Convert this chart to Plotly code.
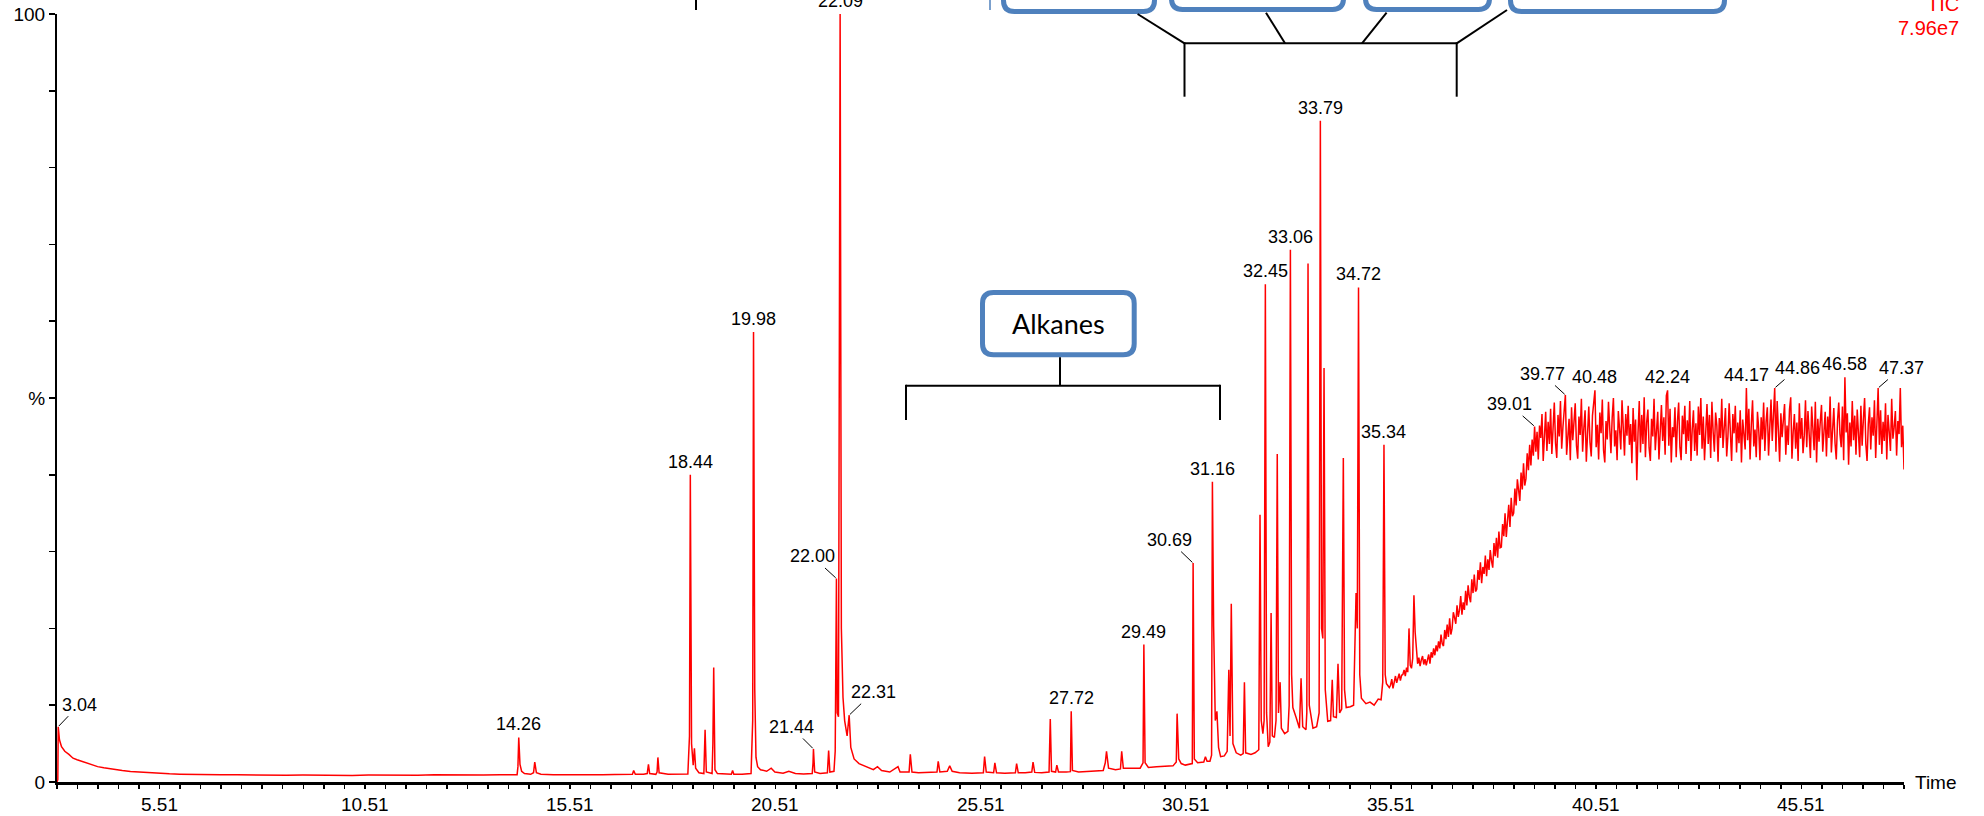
import numpy as np
import plotly.graph_objects as go

# ---------------- data (time in min, intensity in %) ----------------
early_scans = [
    (3.01, 0.0), (3.03, 0.3), (3.04, 7.2), (3.07, 5.5), (3.12, 4.6), (3.2, 4.0), (3.3, 3.6), (3.4, 3.1),
    (3.5, 2.9), (3.6, 2.7), (3.7, 2.5), (3.8, 2.35), (3.9, 2.2), (4.0, 2.0), (4.15, 1.85), (4.3, 1.7),
    (4.45, 1.6), (4.6, 1.5), (4.8, 1.38), (5.0, 1.3), (5.25, 1.22), (5.5, 1.12), (5.75, 1.06), (6.0, 1.02),
    (6.3, 0.98), (6.6, 0.97), (7.0, 0.93), (7.4, 0.95), (7.8, 0.9), (8.2, 0.93), (8.6, 0.88), (9.0, 0.91),
    (9.4, 0.87), (9.8, 0.9), (10.2, 0.86), (10.6, 0.9), (11.0, 0.87), (11.4, 0.92), (11.8, 0.88),
    (12.2, 0.93), (12.6, 0.89), (13.0, 0.92), (13.4, 0.9), (13.8, 0.94), (14.1, 0.92), (14.22, 0.95),
    (14.24, 2.0), (14.26, 5.8), (14.29, 2.3), (14.33, 1.4), (14.4, 1.1), (14.55, 1.0), (14.62, 1.2),
    (14.65, 2.6), (14.69, 1.2), (14.8, 1.0), (15.1, 0.95), (15.5, 0.92), (15.9, 0.96), (16.3, 0.93),
    (16.6, 0.98), (16.9, 0.95), (17.03, 1.0), (17.06, 1.5), (17.1, 1.0), (17.3, 1.0), (17.39, 1.1),
    (17.42, 2.3), (17.45, 1.1), (17.6, 1.0), (17.63, 1.3), (17.65, 3.2), (17.68, 1.2), (17.9, 1.0),
    (18.2, 1.0), (18.38, 1.05),
]

mid_scans = [
    (18.42, 6.0), (18.44, 40.0), (18.47, 5.0), (18.51, 2.2), (18.54, 4.4), (18.57, 1.8), (18.65, 1.2),
    (18.77, 1.1), (18.8, 6.8), (18.83, 1.3), (18.97, 1.1), (18.99, 5.0), (19.01, 14.9), (19.04, 1.6),
    (19.1, 1.1), (19.3, 1.0), (19.44, 1.0), (19.47, 1.5), (19.5, 1.0), (19.7, 1.0), (19.92, 1.1),
    (19.96, 8.0), (19.98, 58.6), (20.01, 12.0), (20.04, 3.2), (20.08, 2.0), (20.15, 1.6), (20.3, 1.4),
    (20.41, 1.8), (20.5, 1.3), (20.7, 1.15), (20.84, 1.4), (21.0, 1.1), (21.2, 1.05), (21.41, 1.1),
    (21.43, 2.5), (21.44, 4.3), (21.47, 1.3), (21.6, 1.1), (21.78, 1.2), (21.81, 4.1), (21.84, 1.3),
    (21.94, 1.4), (21.97, 4.0), (22.0, 26.5), (22.02, 9.0), (22.05, 8.5), (22.09, 100.0), (22.12, 20.0),
    (22.16, 11.0), (22.2, 8.0), (22.26, 6.0), (22.31, 8.7), (22.35, 4.5), (22.43, 3.0), (22.55, 2.4),
    (22.74, 2.0), (22.9, 1.6), (23.0, 2.0), (23.1, 1.5), (23.3, 1.3), (23.5, 2.0), (23.55, 1.3),
    (23.77, 1.3), (23.8, 3.6), (23.84, 1.3), (24.0, 1.2), (24.2, 1.25), (24.45, 1.3), (24.48, 2.7),
    (24.52, 1.3), (24.7, 1.4), (24.76, 2.1), (24.82, 1.4), (25.0, 1.2), (25.3, 1.15), (25.58, 1.2),
    (25.61, 3.3), (25.65, 1.3), (25.83, 1.2), (25.86, 2.5), (25.9, 1.2), (26.1, 1.15), (26.36, 1.2),
    (26.39, 2.4), (26.43, 1.2), (26.6, 1.2), (26.76, 1.3), (26.79, 2.6), (26.83, 1.25), (27.0, 1.2),
]

late_scans = [
    (27.18, 1.3), (27.21, 8.2), (27.24, 1.4), (27.34, 1.3), (27.37, 2.2), (27.41, 1.3), (27.6, 1.3),
    (27.7, 1.35), (27.72, 9.2), (27.75, 1.5), (27.9, 1.3), (28.1, 1.35), (28.3, 1.4), (28.5, 1.5),
    (28.55, 2.5), (28.58, 4.0), (28.63, 1.8), (28.8, 1.6), (28.92, 1.7), (28.95, 4.0), (28.99, 1.8),
    (29.2, 1.75), (29.4, 1.8), (29.47, 2.5), (29.49, 17.9), (29.52, 2.5), (29.6, 1.9), (29.8, 2.0),
    (30.0, 2.05), (30.2, 2.1), (30.28, 2.6), (30.3, 8.9), (30.34, 3.0), (30.4, 2.4), (30.5, 2.2),
    (30.6, 2.3), (30.67, 2.4), (30.69, 28.5), (30.72, 3.0), (30.8, 2.5), (30.95, 2.6), (30.99, 3.3),
    (31.03, 2.7), (31.1, 2.7), (31.14, 3.5), (31.16, 39.1), (31.19, 20.2), (31.23, 8.0), (31.27, 9.2),
    (31.31, 4.5), (31.36, 3.3), (31.45, 3.4), (31.52, 4.0), (31.56, 14.6), (31.59, 6.0), (31.62, 23.2),
    (31.66, 5.0), (31.74, 3.8), (31.85, 3.5), (31.91, 3.7), (31.94, 13.0), (31.97, 3.8), (32.1, 3.6),
    (32.2, 3.8), (32.29, 4.2), (32.32, 34.8), (32.35, 8.0), (32.39, 6.3), (32.42, 8.0), (32.45, 64.8),
    (32.48, 9.0), (32.52, 4.6), (32.56, 5.2), (32.59, 22.0), (32.62, 6.0), (32.67, 5.8), (32.71, 8.0),
    (32.74, 42.7), (32.77, 9.0), (32.81, 13.0), (32.84, 7.0), (32.92, 6.3), (33.0, 6.6), (33.03, 10.0),
    (33.06, 69.3), (33.09, 14.0), (33.12, 9.7), (33.2, 8.4), (33.28, 7.0), (33.32, 13.5), (33.36, 7.2),
    (33.44, 6.8), (33.46, 9.0), (33.49, 67.5), (33.52, 10.0), (33.61, 7.0), (33.7, 7.2), (33.76, 9.0),
    (33.79, 86.1), (33.82, 20.0), (33.85, 18.7), (33.88, 53.9), (33.91, 12.0), (33.97, 7.9), (34.04, 8.0),
    (34.08, 13.3), (34.11, 8.5), (34.18, 8.4), (34.22, 15.4), (34.26, 9.0), (34.31, 9.5), (34.35, 42.2),
    (34.38, 12.0), (34.42, 9.7), (34.52, 9.8), (34.6, 10.0), (34.66, 24.6), (34.69, 20.0), (34.72, 64.4),
    (34.75, 14.0), (34.79, 10.9), (34.9, 10.2), (35.0, 10.4), (35.1, 10.0), (35.2, 10.8), (35.27, 10.7),
    (35.31, 13.0), (35.34, 43.9), (35.37, 14.0), (35.4, 12.8), (35.47, 12.3),
]

# dense scans, one every 0.03 min from 35.50 min
scan_start = 35.50
scan_step = 0.03
rise_scans_pct = [
    12.6, 13.4, 12.2, 13.1, 13.8, 12.9, 13.5, 14.1, 13.2, 13.9,
    14.0, 14.6, 13.8, 14.9, 14.3, 20.0, 15.2, 14.8, 16.1, 24.3,
    19.5, 16.8, 15.4, 16.2, 15.1, 15.9, 16.4, 15.3, 16.0, 15.2,
    15.8, 16.6, 15.4, 16.9, 16.2, 17.4, 16.5, 17.8, 17.0, 18.3,
    17.4, 19.2, 18.0, 17.7, 19.8, 18.6, 20.5, 18.9, 21.3, 19.2,
    20.0, 22.1, 21.4, 20.6, 23.0, 21.5, 22.4, 24.2, 21.8, 23.4,
    22.4, 24.9, 23.0, 25.6, 24.1, 23.4, 26.4, 24.6, 27.0, 24.8,
    25.1, 27.6, 26.3, 28.6, 25.9, 28.0, 27.1, 29.5, 26.8, 29.0,
    27.6, 30.2, 28.8, 27.9, 31.1, 29.4, 31.8, 29.2, 32.6, 30.5,
    30.6, 33.6, 32.0, 35.0, 31.9, 34.3, 36.1, 33.2, 37.0, 34.6,
    35.0, 38.2, 36.0, 39.4, 37.4, 36.6, 40.3, 38.1, 41.5, 38.6,
    39.5, 42.8, 40.6, 43.9, 41.2, 44.6, 42.5, 46.3, 43.0, 45.6,
]
plateau_scans_pct = [
    42.0, 46.4, 44.8, 47.9, 41.8, 45.6, 48.2, 43.1, 46.9, 44.0,
    48.6, 42.7, 45.3, 49.4, 44.1, 42.2, 47.8, 45.0, 49.6, 43.4,
    46.2, 48.0, 50.4, 42.6, 45.7, 47.3, 41.9, 48.8, 44.5, 46.7,
    49.3, 43.8, 42.1, 47.6, 45.2, 49.9, 43.0, 46.1, 48.4, 41.7,
    45.9, 48.9, 44.2, 42.4, 47.7, 49.2, 51.0, 43.6, 46.5, 42.0,
    48.1, 45.4, 49.8, 43.2, 41.6, 47.0, 44.6, 49.5, 46.3, 42.8,
    47.4, 50.0, 43.7, 45.8, 41.9, 48.3, 46.0, 43.3, 49.7, 44.7,
    42.5, 47.9, 45.1, 49.0, 43.9, 46.6, 41.5, 48.7, 44.3, 47.2,
    39.3, 45.5, 49.6, 42.9, 47.8, 44.0, 50.1, 42.3, 46.8, 48.5,
    43.5, 41.8, 47.3, 45.0, 49.9, 43.2, 46.4, 48.2, 42.0, 45.7,
    49.1, 44.4, 47.5, 42.6, 50.3, 51.0, 43.8, 48.6, 41.6, 46.2,
    44.9, 48.8, 42.3, 46.9, 49.4, 43.6, 41.9, 47.7, 45.3, 49.0,
    42.7, 47.1, 44.4, 49.6, 41.8, 45.9, 48.4, 43.1, 46.7, 42.5,
    48.9, 45.2, 50.0, 43.4, 47.6, 41.9, 46.3, 49.2, 44.0, 47.8,
    42.2, 49.5, 45.6, 43.0, 48.1, 46.4, 41.7, 47.4, 44.8, 49.9,
    43.5, 46.1, 48.7, 42.4, 45.0, 49.3, 44.2, 41.8, 47.9, 45.4,
    49.0, 42.9, 46.8, 44.1, 48.4, 41.6, 47.2, 45.7, 43.3, 51.3,
    44.5, 48.6, 42.0, 46.5, 49.7, 43.7, 45.9, 42.3, 48.2, 46.0,
    41.9, 47.5, 44.6, 49.4, 43.1, 46.9, 48.8, 42.5, 45.3, 49.8,
    44.4, 47.7, 51.3, 43.0, 49.6, 45.8, 41.7, 48.0, 44.9, 47.1,
    49.2, 42.6, 46.4, 43.9, 48.5, 50.1, 42.1, 45.6, 47.9, 43.4,
    46.8, 41.8, 49.3, 44.7, 47.4, 42.8, 45.1, 49.7, 43.6, 48.3,
    45.0, 42.2, 48.9, 46.6, 43.2, 49.5, 41.6, 47.3, 44.3, 46.9,
    49.1, 43.0, 45.7, 48.2, 42.4, 47.6, 44.8, 50.2, 42.9, 46.1,
    48.7, 44.1, 42.0, 47.0, 49.4, 45.3, 43.6, 48.9, 41.9, 52.7,
    45.5, 48.0, 41.3, 46.8, 43.7, 49.6, 44.5, 47.7, 42.6, 48.5,
    45.2, 42.3, 49.0, 43.8, 47.2, 50.0, 44.0, 41.8, 46.6, 48.8,
    43.3, 47.5, 45.1, 49.7, 42.2, 46.3, 51.3, 43.9, 48.4, 42.7,
    46.9, 44.4, 49.3, 42.0, 47.8, 45.6, 43.1, 49.9, 44.7, 46.2,
    48.3, 42.5, 47.0, 45.3, 51.3, 43.6, 46.4, 40.7,
]

peak_labels = ["3.04", "14.26", "18.44", "19.98", "21.44", "22.00", "22.09", "22.31", "27.72",
               "29.49", "30.69", "31.16", "32.45", "33.06", "33.79", "34.72", "35.34", "39.01",
               "39.77", "40.48", "42.24", "44.17", "44.86", "46.58", "47.37"]
x_tick_labels = ["5.51", "10.51", "15.51", "20.51", "25.51", "30.51", "35.51", "40.51", "45.51"]
y_tick_labels = ["0", "%", "100"]
trace_name = "TIC"
trace_scale = "7.96e7"
group_label = "Alkanes"

# ---------------- assemble trace ----------------
seg_a = early_scans + mid_scans + late_scans
time_a = [p[0] for p in seg_a]
pct_a = [p[1] for p in seg_a]
scan_pct = rise_scans_pct + plateau_scans_pct
time_b = list(np.round(scan_start + scan_step * np.arange(len(scan_pct)), 3))
all_time = np.array(time_a + time_b)
all_pct = np.array(pct_a + scan_pct)

RED = "#FF0000"
BLUE = "#4F81BD"
FONT = "Liberation Sans, Arial, sans-serif"

fig = go.Figure()
fig.add_trace(go.Scatter(x=all_time, y=all_pct, mode="lines",
                         line=dict(color=RED, width=1.5), hoverinfo="skip", showlegend=False))

# ---------------- geometry helpers (pixel -> paper) ----------------
W, H = 1984, 816
ML, MR, MT, MB = 57, 80, 14, 34
PW, PH = W - ML - MR, H - MT - MB


def px(xp):
    return (xp - ML) / PW


def py(yp):
    return (H - MB - yp) / PH


def rounded_rect(x0, y0, x1, y1, r):
    pts = [
        ("M", [(x0 + r, y0)]), ("L", [(x1 - r, y0)]), ("Q", [(x1, y0), (x1, y0 + r)]),
        ("L", [(x1, y1 - r)]), ("Q", [(x1, y1), (x1 - r, y1)]), ("L", [(x0 + r, y1)]),
        ("Q", [(x0, y1), (x0, y1 - r)]), ("L", [(x0, y0 + r)]), ("Q", [(x0, y0), (x0 + r, y0)]),
    ]
    s = ""
    for cmd, ps in pts:
        s += cmd + " " + " ".join(f"{px(a):.6f},{py(b):.6f}" for a, b in ps) + " "
    return s + "Z"


shapes = []
# boxes: top row (cut off) + Alkanes
for (x0, y0, x1, y1) in [(1003.5, -120, 1154.5, 11.5), (1171.5, -120, 1343.5, 9.5),
                         (1365.5, -120, 1489.5, 9.5), (1510.5, -120, 1724.5, 11.5),
                         (982.5, 292.5, 1134.2, 354.8)]:
    shapes.append(dict(type="path", xref="paper", yref="paper", path=rounded_rect(x0, y0, x1, y1, 11),
                       line=dict(color=BLUE, width=5), fillcolor="white", layer="above"))

black_lines = [
    # Alkanes bracket
    (1060, 357.3, 1060, 385.7), (906, 385.7, 1220, 385.7), (906, 384.7, 906, 420), (1220, 384.7, 1220, 420),
    # top bracket
    (1137.6, 14, 1184.5, 43.3), (1266, 12.7, 1285, 43.3), (1386.6, 12.7, 1362, 43.3), (1507, 10, 1456.7, 43.3),
    (1184.5, 43.3, 1456.7, 43.3), (1184.5, 42.3, 1184.5, 96.7), (1456.7, 42.3, 1456.7, 96.7),
    # partial line at top
    (696, -5, 696, 10),
]
for (a, b, c, d) in black_lines:
    shapes.append(dict(type="line", xref="paper", yref="paper", x0=px(a), y0=py(b), x1=px(c), y1=py(d),
                       line=dict(color="black", width=2), layer="above"))
shapes.append(dict(type="line", xref="paper", yref="paper", x0=px(990), y0=py(-5), x1=px(990), y1=py(10),
                   line=dict(color=BLUE, width=1.5), layer="above"))

# ---------------- annotations ----------------
annotations = []
leader = {"3.04": (21, -22), "21.44": (-22, -22), "22.00": (-24, -22), "22.31": (24, -23),
          "30.69": (-24, -23), "39.01": (-25, -22), "39.77": (-23, -21), "44.86": (23, -20),
          "47.37": (23, -20)}
for lab in peak_labels:
    t = float(lab)
    i = int(np.argmin(np.abs(all_time - t)))
    xt, yt = float(all_time[i]), float(all_pct[i])
    if lab in leader:
        ax, ay = leader[lab]
        annotations.append(dict(x=xt, y=yt, xref="x", yref="y", text=lab, showarrow=True, arrowhead=0,
                                arrowwidth=1, arrowcolor="black", ax=ax, ay=ay, standoff=1,
                                font=dict(family=FONT, size=18, color="black")))
    else:
        annotations.append(dict(x=xt, y=yt, xref="x", yref="y", text=lab, showarrow=False,
                                yanchor="bottom", yshift=1,
                                font=dict(family=FONT, size=18, color="black")))

# x tick labels (placed closer to the axis than plotly's default standoff)
for lab in x_tick_labels:
    annotations.append(dict(x=float(lab), y=0, xref="x", yref="y", text=lab, showarrow=False,
                            xanchor="center", yanchor="middle", yshift=-22,
                            font=dict(family=FONT, size=19, color="black")))

annotations.append(dict(x=px(1058.5), y=py(323.5), xref="paper", yref="paper", text=group_label,
                        showarrow=False, font=dict(family="Lato, Noto Sans, sans-serif", size=27, color="black")))
annotations.append(dict(x=1, y=0, xref="paper", yref="paper", text="Time", showarrow=False,
                        xanchor="left", yanchor="middle", xshift=9,
                        font=dict(family=FONT, size=19, color="black")))
annotations.append(dict(x=px(1961), y=py(27.5), xref="paper", yref="paper", text=trace_scale, showarrow=False,
                        xanchor="right", yanchor="middle", font=dict(family=FONT, size=20, color=RED)))
annotations.append(dict(x=px(1961), y=py(4.5), xref="paper", yref="paper", text=trace_name, showarrow=False,
                        xanchor="right", yanchor="middle", font=dict(family=FONT, size=20, color=RED)))

# ---------------- axes ----------------
x_min, x_max = 3.01, 48.01
major_vals = list(np.round(np.arange(x_min, x_max + 0.001, 2.5), 2))
minor_vals = list(np.round(np.arange(x_min, x_max + 0.001, 0.5), 2))

y_vals = list(range(0, 101, 10))
y_text = [y_tick_labels[0]] + [""] * 4 + [y_tick_labels[1]] + [""] * 4 + [y_tick_labels[2]]

fig.update_layout(
    template="none",
    width=W, height=H,
    margin=dict(l=ML, r=MR, t=MT, b=MB, pad=0, autoexpand=False),
    paper_bgcolor="white", plot_bgcolor="white",
    font=dict(family=FONT, size=19, color="black"),
    showlegend=False,
    xaxis=dict(range=[x_min, x_max], automargin=False, showgrid=False, zeroline=False, showline=True,
               linecolor="black", linewidth=3, ticks="outside", ticklen=9, tickwidth=1.5, tickcolor="black",
               tickmode="array", tickvals=major_vals, ticktext=[""] * len(major_vals),
               minor=dict(tickmode="array", tickvals=minor_vals, ticks="outside", ticklen=4,
                          tickwidth=1.5, tickcolor="black", showgrid=False)),
    yaxis=dict(range=[0, 100], automargin=False, showgrid=False, zeroline=False, showline=True,
               linecolor="black", linewidth=2, ticks="outside", ticklen=6, tickwidth=1.5, tickcolor="black",
               tickmode="array", tickvals=y_vals, ticktext=y_text,
               tickfont=dict(family=FONT, size=19, color="black")),
    shapes=shapes,
    annotations=annotations,
)

fig.write_html(
    "out.html",
    config={"displayModeBar": False, "staticPlot": True},
    post_script="document.documentElement.style.margin='0';document.body.style.margin='0';"
                "document.body.style.padding='0';document.body.style.overflow='hidden';",
)
